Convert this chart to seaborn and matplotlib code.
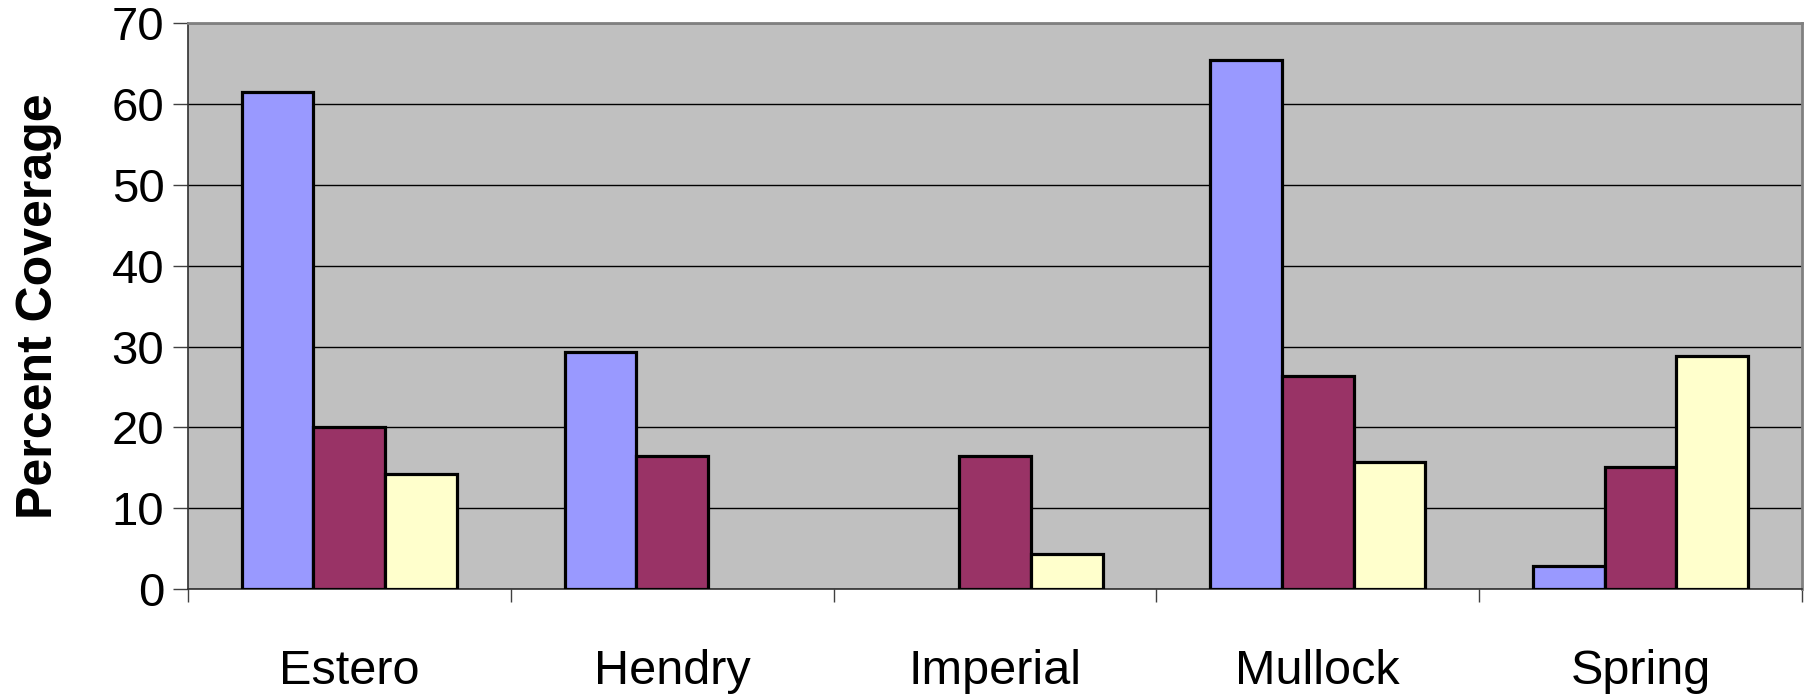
import numpy as np
import pandas as pd
import matplotlib
matplotlib.use("Agg")
import matplotlib.pyplot as plt
import seaborn as sns

# Percent coverage by site for three cover classes
sites = ["Estero", "Hendry", "Imperial", "Mullock", "Spring"]
series_names = ["Series A", "Series B", "Series C"]
series_a = [61.5, 29.3, 0.0, 65.4, 2.9]
series_b = [20.0, 16.5, 16.5, 26.4, 15.1]
series_c = [14.2, 0.0, 4.4, 15.7, 28.8]
y_ticks = [0, 10, 20, 30, 40, 50, 60, 70]
colors = ["#9999FF", "#993366", "#FFFFCC"]

df = pd.DataFrame({
    "site": sites * 3,
    "series": [s for s in series_names for _ in sites],
    "value": series_a + series_b + series_c,
})

sns.set_style("white")
plt.rcParams["font.family"] = ["Liberation Sans", "DejaVu Sans"]
plt.rcParams["text.color"] = "black"
plt.rcParams["axes.labelcolor"] = "black"
plt.rcParams["xtick.color"] = "black"
plt.rcParams["ytick.color"] = "black"

fig = plt.figure(figsize=(18.11, 6.98), dpi=100)
ax = fig.add_axes([0.1038, 0.156, 0.8912, 0.811])
ax.set_facecolor("#C0C0C0")

sns.barplot(data=df, x="site", y="value", hue="series", order=sites,
            hue_order=series_names, palette=colors, width=0.667, gap=0,
            edgecolor="black", linewidth=2.3, saturation=1, ax=ax,
            legend=False, zorder=3)

for p in ax.patches:
    if p.get_height() == 0:
        p.set_visible(False)

ax.set_xlim(-0.5, len(sites) - 0.5)
ax.set_ylim(0, 70)
ax.set_yticks(y_ticks)
ax.yaxis.grid(True, color="black", linewidth=1.0, zorder=1)
ax.set_axisbelow(True)

# category boundary ticks on the x axis; labels centered without ticks
ax.set_xticks(np.arange(-0.5, len(sites), 1.0), minor=True)
ax.tick_params(axis="x", which="minor", direction="out", length=9,
               width=1.0, color="#404040", bottom=True)
ax.tick_params(axis="x", which="major", length=0, pad=43, labelsize=35,
               labelcolor="black")
ax.tick_params(axis="y", which="major", direction="out", length=11,
               width=1.0, color="#404040", left=True, pad=6, labelsize=34,
               labelcolor="black")

for side in ["top", "right"]:
    ax.spines[side].set_color("#808080")
    ax.spines[side].set_linewidth(2.0)
for side in ["left", "bottom"]:
    ax.spines[side].set_color("#303030")
    ax.spines[side].set_linewidth(1.2)

ax.set_xlabel("")
ax.set_ylabel("Percent Coverage", fontsize=36, fontweight="bold",
              labelpad=36, color="black")

fig.savefig("out.png", dpi=100, facecolor="white")
